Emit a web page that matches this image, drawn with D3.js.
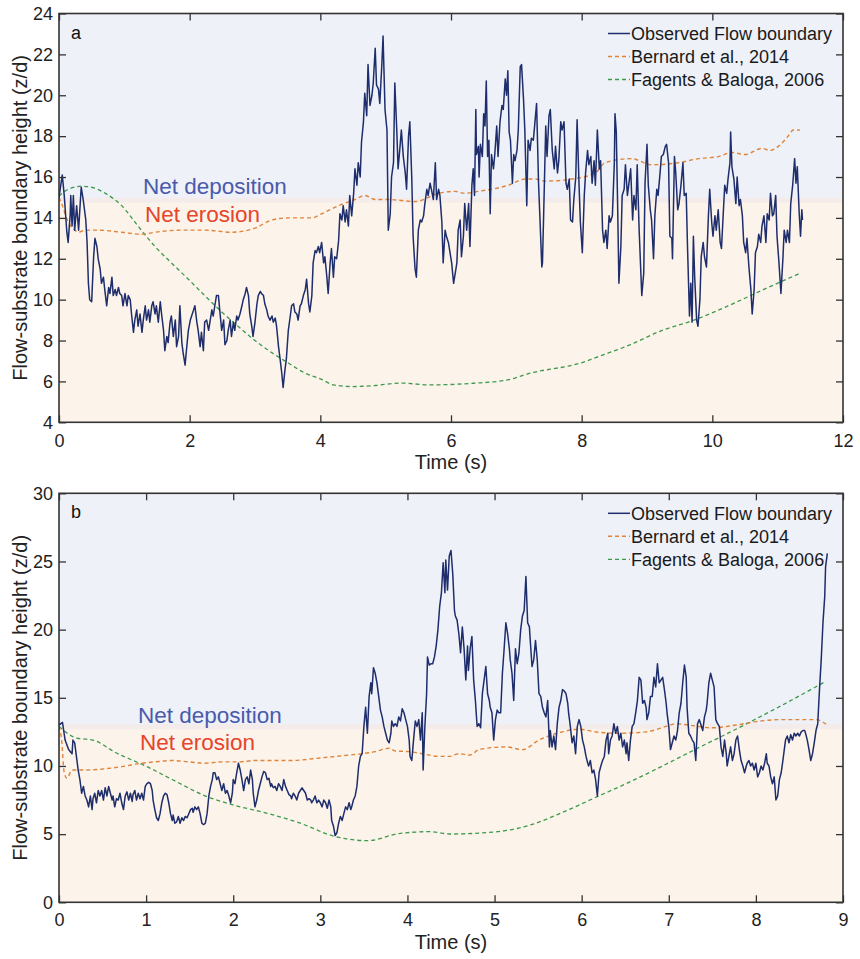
<!DOCTYPE html>
<html><head><meta charset="utf-8">
<script src="https://cdn.jsdelivr.net/npm/d3@7"></script>
<style>body{margin:0;background:#fff}svg{display:block}text{font-family:"Liberation Sans",Arial,sans-serif}</style>
</head><body>
<svg id="c" width="860" height="959"></svg>
<script>
// ---------- DATA ----------
const seriesNames = ["Observed Flow boundary","Bernard et al., 2014","Fagents & Baloga, 2006"];
const xTicksA = [0,2,4,6,8,10,12];
const yTicksA = [4,6,8,10,12,14,16,18,20,22,24];
const xTicksB = [0,1,2,3,4,5,6,7,8,9];
const yTicksB = [0,5,10,15,20,25,30];
const thresholdA = 14.87;
const thresholdB = 12.88;

const obsA_t = [0.00,0.05,0.08,0.12,0.14,0.17,0.18,0.20,0.22,0.24,0.27,0.30,0.34,0.37,0.41,0.43,
0.45,0.47,0.50,0.53,0.55,0.58,0.60,0.63,0.65,0.68,
0.70,0.73,0.76,0.78,0.81,0.83,0.86,0.88,0.91,0.93,
0.96,0.98,1.01,1.04,1.06,1.09,1.11,1.14,1.16,1.19,
1.21,1.24,1.27,1.29,1.32,1.34,1.37,1.39,1.42,1.44,
1.47,1.49,1.52,1.55,1.57,1.60,1.62,1.65,1.67,1.70,
1.72,1.75,1.78,1.80,1.83,1.85,1.88,1.90,1.93,1.95,
1.98,2.01,2.03,2.06,2.08,2.11,2.13,2.16,2.18,2.21,
2.23,2.26,2.29,2.31,2.34,2.36,2.39,2.41,2.44,2.46,
2.49,2.52,2.54,2.57,2.59,2.62,2.64,2.67,2.69,2.72,
2.74,2.77,2.80,2.82,2.85,2.87,2.90,2.92,2.95,2.97,
3.00,3.03,3.05,3.08,3.10,3.13,3.15,3.18,3.20,3.23,
3.26,3.28,3.31,3.33,3.36,3.38,3.41,3.43,3.46,3.48,
3.51,3.54,3.56,3.59,3.61,3.64,3.66,3.69,3.71,3.74,
3.77,3.79,3.82,3.84,3.87,3.89,3.92,3.94,3.97,3.99,
4.02,4.05,4.07,4.10,4.12,4.15,4.17,4.20,4.22,4.25,
4.28,4.30,4.33,4.35,4.38,4.40,4.43,4.45,4.48,4.51,
4.53,4.56,4.58,4.61,4.63,4.66,4.68,4.71,4.73,4.76,
4.79,4.81,4.84,4.86,4.89,4.91,4.94,4.96,4.99,5.02,
5.04,5.07,5.09,5.12,5.14,5.17,5.19,5.22,5.24,5.27,
5.30,5.32,5.35,5.37,5.40,5.42,5.45,5.47,5.50,5.53,
5.55,5.58,5.60,5.63,5.65,5.68,5.70,5.73,5.76,5.78,
5.81,5.83,5.86,5.88,5.91,5.93,5.96,6.01,6.04,
6.09,6.11,6.14,6.16,6.19,6.21,6.24,6.27,6.29,6.32,
6.34,6.36,6.38,6.39,6.42,6.43,6.45,6.48,6.50,6.52,
6.54,6.56,6.58,6.60,6.62,6.65,6.67,6.70,6.72,6.75,
6.78,6.80,6.83,6.85,6.87,6.89,6.91,6.94,6.96,6.98,
7.01,7.03,7.06,7.08,7.11,7.13,7.16,7.18,7.21,7.23,
7.26,7.28,7.31,7.34,7.36,7.39,7.40,7.42,7.45,7.47,
7.50,7.52,7.55,7.58,7.60,7.63,7.65,7.68,7.70,7.73,
7.76,7.78,7.81,7.83,7.86,7.88,7.91,7.93,7.96,7.98,
8.01,8.04,8.06,8.09,8.11,8.14,8.16,8.19,8.21,8.24,
8.27,8.29,8.32,8.34,8.37,8.39,8.42,8.44,8.47,8.50,
8.51,8.53,8.55,8.57,8.60,8.62,8.65,8.67,8.70,8.72,
8.75,8.78,8.80,8.83,8.85,8.88,8.90,8.92,8.95,8.97,
9.00,9.02,9.05,9.07,9.10,9.12,9.15,9.17,9.20,9.22,
9.25,9.28,9.30,9.33,9.35,9.38,9.39,9.42,9.44,9.47,
9.49,9.52,9.55,9.57,9.60,9.62,9.65,9.67,9.69,9.71,
9.73,9.76,9.78,9.81,9.83,9.86,9.88,9.91,9.94,9.96,
9.99,10.01,10.04,10.06,10.09,10.12,10.14,10.17,10.19,10.22,
10.24,10.27,10.28,10.30,10.33,10.36,10.38,10.41,10.43,10.46,
10.48,10.51,10.53,10.56,10.59,10.61,10.64,10.66,10.69,10.71,
10.74,10.76,10.79,10.82,10.84,10.87,10.89,10.92,10.94,10.97,
10.99,11.02,11.05,11.08,11.10,11.13,11.15,11.18,11.20,11.23,
11.26,11.28,11.30,11.33,11.35,11.37,11.38];
const obsA_v = [15.0,16.1,15.1,13.3,12.8,14.1,15.1,13.6,15.1,13.4,14.6,13.4,15.5,14.9,13.9,12.8,
10.8,10.0,9.9,12.1,13.0,12.6,12.0,11.5,10.8,11.1,
10.5,9.7,10.6,10.3,11.1,10.2,10.5,10.2,10.6,10.3,
10.2,9.7,10.3,9.7,10.2,10.0,9.3,8.4,9.0,9.5,
8.7,9.3,8.4,9.0,9.7,9.0,9.5,8.9,9.7,9.9,
9.3,9.7,8.9,9.9,9.3,8.5,7.5,8.2,7.9,8.9,
9.2,8.2,9.0,7.7,8.2,9.7,7.9,7.4,6.8,7.5,
8.5,9.0,9.2,9.5,9.7,8.9,8.5,7.7,8.4,7.5,
8.9,9.0,8.5,8.9,9.5,9.2,9.8,10.2,10.2,9.5,
8.5,9.0,7.8,8.0,8.5,9.0,8.2,8.9,8.5,9.2,
9.0,9.3,9.7,10.0,10.3,10.6,10.2,9.3,8.7,8.2,
8.9,9.8,10.2,10.4,10.3,10.2,9.8,9.5,9.2,9.0,
9.2,8.9,9.1,8.7,7.7,7.2,6.4,5.7,6.6,7.1,
8.5,9.2,9.7,9.8,9.4,9.3,9.0,9.7,9.8,10.2,
10.5,11.0,9.8,9.4,10.2,11.8,12.4,12.3,12.6,12.3,
12.8,11.8,12.1,11.1,10.3,11.8,12.5,11.1,12.1,12.0,
12.9,14.2,13.9,14.6,13.8,14.4,13.6,15.1,14.1,15.2,
16.4,15.6,16.7,16.0,17.7,18.7,20.1,19.0,21.5,19.5,
20.0,20.6,22.3,20.5,20.3,19.6,21.4,22.9,19.3,18.3,
13.4,14.2,16.0,16.7,20.6,18.3,16.4,17.5,18.3,17.0,
16.2,15.4,18.0,18.7,15.9,13.1,11.5,11.1,13.4,13.9,
13.8,14.1,14.7,15.4,15.1,15.7,15.4,14.9,16.7,14.9,
15.4,15.1,13.8,11.8,13.4,13.1,12.8,11.8,10.8,
11.8,13.4,13.9,12.1,13.1,14.7,13.4,14.7,12.6,15.6,
16.4,15.1,19.3,17.1,17.5,16.0,17.6,17.0,19.1,18.5,
20.7,17.0,17.8,14.2,17.1,16.4,17.1,18.5,17.0,18.7,
19.5,19.3,20.8,20.0,21.2,18.2,17.8,15.7,17.1,16.8,
17.3,18.3,21.4,21.5,19.8,18.3,14.6,17.8,17.3,17.9,
17.8,18.5,19.6,15.7,14.1,11.6,11.8,14.4,18.5,17.0,
19.0,19.3,17.3,16.4,17.5,16.2,16.8,18.7,18.3,18.7,
15.7,15.4,15.9,13.9,13.8,14.9,16.0,18.8,15.6,13.8,
12.3,15.1,16.2,17.3,16.6,17.0,15.7,16.8,15.6,18.3,
16.4,16.8,13.4,12.8,13.4,12.5,14.1,13.8,14.1,16.7,
19.1,18.2,14.7,10.8,12.6,15.1,15.4,16.6,15.1,15.6,
16.4,13.9,15.1,14.4,16.6,13.4,11.8,10.2,11.3,15.7,
17.6,15.6,14.4,13.9,12.0,14.1,15.4,15.1,16.2,17.0,
17.1,17.5,17.6,16.7,13.1,13.0,12.0,17.0,16.2,14.4,
14.7,15.6,16.7,15.1,15.2,12.6,9.2,10.8,8.9,13.1,
11.1,9.0,8.7,10.0,12.1,12.8,12.1,11.6,14.1,15.4,
13.8,13.1,14.1,13.4,14.4,12.8,12.5,14.4,15.6,15.2,
15.9,16.7,18.2,16.5,15.9,14.7,16.0,14.6,14.9,14.1,
12.8,12.3,13.0,11.6,10.5,9.3,10.5,12.3,12.6,13.2,
12.8,13.6,14.1,12.8,14.2,13.9,15.2,14.1,14.2,15.1,
13.1,11.8,10.3,12.0,13.4,12.8,13.4,12.8,14.7,15.6,
16.9,15.7,16.5,14.2,13.1,14.4,13.9];

const bernA_t = [0,0.04,0.14,0.24,0.30,0.40,0.60,0.96,1.27,1.47,1.88,2.23,2.64,3.00,3.26,3.51,3.87,4.02,4.28,4.53,4.68,4.84,5.04,5.45,5.81,6.06,6.21,6.42,6.88,7.13,7.29,7.44,7.85,8.21,8.36,8.76,9.07,9.48,9.79,10.09,10.30,10.50,10.76,10.88,11.01,11.16,11.24,11.34];
const bernA_v = [15.0,14.7,13.8,13.4,13.3,13.4,13.4,13.3,13.2,13.3,13.4,13.4,13.3,13.5,13.9,14.0,14.0,14.2,14.6,14.9,15.1,14.9,14.9,14.8,15.2,15.3,15.2,15.3,15.6,15.9,15.9,15.8,15.9,16.2,16.7,16.9,16.6,16.7,16.9,17.0,17.2,17.1,17.4,17.3,17.5,18.0,18.3,18.3];

const fagA_t = [0,0.14,0.35,0.50,0.71,0.96,1.21,1.47,1.72,1.98,2.23,2.49,2.74,3.00,3.26,3.51,3.77,4.02,4.20,4.50,4.84,5.22,5.68,6.34,6.86,7.21,7.98,8.33,8.74,9.25,9.66,10.28,10.78,11.35];
const fagA_v = [15.06,15.4,15.55,15.5,15.2,14.6,13.6,12.6,11.8,11.0,10.2,9.4,8.7,8.0,7.4,6.9,6.4,6.1,5.83,5.75,5.8,5.92,5.83,5.91,6.07,6.4,6.9,7.3,7.79,8.52,8.93,9.75,10.49,11.3];

const obsB_t = [0.00,0.04,0.07,0.11,0.15,0.16,0.18,0.20,0.22,0.24,0.26,0.28,0.30,0.32,
0.34,0.36,0.38,0.39,0.41,0.43,0.45,0.47,0.49,0.51,
0.53,0.55,0.57,0.59,0.61,0.62,0.64,0.66,0.68,0.70,
0.72,0.74,0.76,0.78,0.80,0.82,0.84,0.85,0.87,0.89,
0.91,0.93,0.95,0.97,0.99,1.01,1.03,1.05,1.07,1.08,
1.10,1.12,1.14,1.16,1.18,1.20,1.22,1.24,1.26,1.28,
1.30,1.31,1.33,1.35,1.37,1.39,1.41,1.43,1.45,1.47,
1.49,1.51,1.53,1.54,1.56,1.58,1.60,1.62,1.64,1.66,
1.68,1.70,1.72,1.74,1.76,1.77,1.79,1.81,1.83,1.85,
1.87,1.89,1.91,1.93,1.95,1.97,1.99,2.00,2.02,2.04,
2.06,2.08,2.10,2.12,2.14,2.16,2.18,2.20,2.22,2.23,
2.25,2.27,2.29,2.31,2.33,2.35,2.37,2.39,2.41,2.43,
2.44,2.46,2.48,2.50,2.52,2.54,2.56,2.58,2.60,2.62,
2.64,2.66,2.67,2.69,2.71,2.73,2.75,2.77,2.79,2.81,
2.83,2.85,2.87,2.89,2.90,2.92,2.94,2.96,2.98,3.00,
3.02,3.04,3.06,3.08,3.10,3.12,3.13,3.15,3.17,3.19,
3.21,3.23,3.25,3.27,3.29,3.31,3.33,3.35,3.36,3.38,
3.40,3.42,3.44,3.46,3.48,3.50,3.52,3.54,3.56,3.58,
3.59,3.61,3.63,3.65,3.67,3.69,3.71,3.73,3.75,3.77,
3.79,3.81,3.82,3.84,3.86,3.88,3.90,3.92,3.94,3.96,
3.98,4.00,4.02,4.03,4.05,4.07,4.09,4.11,4.13,4.15,
4.17,
4.18,4.20,4.22,4.23,4.25,4.27,4.29,4.31,4.33,4.35,4.37,4.39,4.41,4.43,4.44,4.46,4.48,4.50,4.52,4.54,
4.55,4.57,4.59,4.61,4.63,4.65,4.67,4.69,4.70,4.72,
4.74,4.76,4.78,4.80,4.82,4.84,4.86,4.88,4.90,4.92,
4.94,4.95,4.97,4.99,5.01,5.03,5.05,5.07,5.09,5.11,
5.13,5.15,5.17,5.18,5.20,5.22,5.24,5.26,5.28,5.30,
5.32,5.34,5.36,5.38,5.40,5.41,5.43,5.45,5.47,5.49,
5.51,5.53,5.55,5.57,5.59,5.61,5.63,5.64,5.66,5.68,
5.70,5.72,5.74,5.76,5.78,5.80,5.82,5.84,5.85,5.87,
5.89,5.91,5.93,5.95,5.97,5.99,6.01,6.03,6.05,6.07,
6.08,6.10,6.12,6.14,6.16,6.18,6.20,6.22,6.24,6.26,
6.28,6.30,6.31,6.33,6.35,6.37,6.39,6.41,6.43,6.45,
6.47,6.49,6.51,6.52,6.54,6.56,6.58,6.60,6.62,6.64,
6.66,6.68,6.70,6.72,6.74,6.75,6.77,6.79,6.81,6.83,
6.85,6.87,6.89,6.91,6.93,6.95,6.97,6.98,7.00,7.02,
7.04,7.06,7.08,7.10,7.12,7.14,7.16,7.18,7.20,7.21,
7.23,7.25,7.27,7.29,7.31,7.33,7.35,7.37,7.39,7.41,
7.43,7.44,7.46,7.48,7.50,7.52,7.54,7.56,7.58,7.60,
7.62,7.64,7.66,7.67,7.69,7.71,7.73,7.75,7.77,7.79,
7.81,7.83,7.85,7.87,7.89,7.90,7.92,7.94,7.96,7.98,
8.00,8.02,8.04,8.06,8.08,8.10,8.12,8.13,8.15,8.17,
8.19,8.21,8.23,8.25,8.27,8.29,8.31,8.33,8.34,8.36,
8.38,8.40,8.42,8.44,8.46,8.48,8.50,8.52,8.54,8.56,
8.57,8.59,8.61,8.63,8.65,8.67,8.69,8.71,8.73,8.75,
8.77,8.79,8.80,8.82];
const obsB_v = [13.0,13.2,11.9,11.2,10.9,11.9,11.7,10.7,9.7,9.0,8.0,8.5,7.8,7.5,
7.0,7.8,6.8,7.6,8.0,7.3,8.2,7.8,8.2,7.5,
8.4,7.8,8.5,8.0,7.5,7.8,7.0,7.6,7.5,8.0,
7.3,6.8,7.8,8.1,7.5,8.0,7.4,7.9,8.2,7.5,
8.0,7.6,8.0,7.5,8.5,8.7,8.8,8.7,8.2,7.5,
6.8,6.2,6.0,6.5,7.3,7.8,8.0,7.9,7.3,6.5,
6.0,6.4,5.8,5.9,6.3,5.8,6.2,6.0,6.3,6.2,
6.5,6.8,6.9,6.6,7.0,6.8,7.0,6.5,5.8,5.7,
5.8,6.5,7.8,8.5,9.0,9.5,9.5,9.0,9.2,8.7,
8.2,8.7,8.0,8.2,7.8,7.3,8.0,9.0,8.7,9.5,
10.2,9.7,9.0,8.2,9.0,9.2,8.7,9.7,9.0,8.0,
7.0,7.5,8.2,8.7,9.2,9.6,9.5,9.0,9.1,8.5,
8.7,8.4,8.5,8.2,8.7,8.5,8.2,9.0,8.5,8.2,
7.9,7.8,7.6,8.0,7.8,7.5,8.0,8.2,8.4,8.2,
8.0,7.5,7.6,7.5,7.3,7.5,7.8,7.3,7.5,7.3,
7.0,7.5,7.3,6.9,7.5,7.0,6.0,5.6,4.9,5.1,
5.8,6.3,6.0,6.5,7.0,6.8,7.3,6.8,7.0,7.5,
7.8,8.5,10.0,10.7,10.9,12.9,14.3,12.4,15.1,16.1,
15.3,17.2,16.8,16.1,15.1,14.1,13.6,12.9,12.4,11.9,
11.7,12.4,13.3,12.9,13.1,12.9,13.6,13.3,14.2,13.9,
13.4,12.9,11.9,10.7,10.4,11.9,13.3,12.9,13.4,11.9,
13.9,
9.7,12.9,15.3,18.0,17.4,17.5,17.5,18.0,18.8,20.0,21.7,22.7,24.9,22.7,25.1,22.9,25.4,25.8,24.1,21.4,
21.0,20.7,19.7,18.3,20.2,18.6,16.3,18.8,17.0,18.6,
19.5,16.3,14.8,12.9,13.1,12.8,15.3,16.3,17.3,15.3,
14.8,14.3,13.9,11.9,13.4,14.1,13.9,13.9,16.8,18.6,
20.5,19.7,18.6,17.8,16.8,14.8,18.6,17.5,18.3,20.0,
21.0,21.4,23.9,20.5,20.2,19.2,17.3,17.8,19.2,17.8,
15.3,15.1,14.3,13.9,13.6,14.8,11.4,12.6,11.4,12.2,
11.2,13.1,14.3,14.8,15.6,15.5,15.3,14.6,13.9,12.9,
11.7,12.2,10.9,12.9,13.4,12.9,11.9,11.4,10.7,10.2,
10.0,10.4,9.5,9.7,9.0,7.8,9.5,10.0,10.4,10.7,
11.9,12.4,10.9,11.9,12.2,13.1,12.4,12.9,11.9,12.4,
11.4,11.9,10.9,11.7,10.4,11.9,12.9,13.1,13.9,14.8,
16.5,16.3,14.6,14.8,14.3,13.4,13.9,15.1,15.1,16.5,
15.8,17.5,16.1,16.3,16.5,15.6,14.6,13.9,12.9,11.2,
11.7,12.2,11.9,12.6,13.9,14.6,16.1,17.4,16.5,14.3,
12.4,12.2,11.9,11.7,10.4,13.1,13.4,13.0,12.6,13.6,
14.1,14.6,16.1,16.8,16.3,15.8,13.4,13.1,12.9,11.4,
10.7,11.9,10.9,10.0,10.7,11.4,10.4,10.9,11.9,12.2,
11.2,10.4,10.0,9.5,10.0,10.2,10.4,10.0,10.2,9.7,
10.2,9.2,9.5,10.0,9.7,10.2,10.9,10.2,10.0,9.2,
8.7,9.2,7.5,7.8,9.0,9.5,10.4,11.4,11.9,12.2,
11.7,12.3,11.9,12.4,12.2,12.4,12.2,12.5,12.6,12.6,
12.4,11.9,11.2,10.4,10.9,11.7,12.6,13.1,15.6,17.8,
20.5,22.4,24.6,25.6];

const bernB_t = [0,0.03,0.06,0.09,0.15,0.26,0.45,0.72,0.95,1.10,1.30,1.49,1.68,1.87,2.06,2.25,2.64,3.02,3.33,3.48,3.63,3.79,3.86,4.02,4.17,4.36,4.48,4.59,4.72,4.82,5.13,5.32,5.51,5.78,5.97,6.16,6.43,6.74,6.97,7.08,7.23,7.50,7.77,8.00,8.27,8.50,8.69,8.82];
const bernB_v = [12.9,11.9,9.5,9.1,9.7,9.7,9.75,9.95,10.2,10.3,10.4,10.3,10.2,10.3,10.3,10.4,10.4,10.6,10.8,10.9,11.05,11.3,11.1,11.05,10.9,10.7,10.7,10.9,10.8,11.2,11.4,11.2,11.9,12.5,12.7,12.5,12.4,12.5,12.9,13.1,13.0,12.8,13.0,13.25,13.4,13.4,13.4,13.0];

const fagB_t = [0,0.20,0.39,0.66,1.01,1.31,1.70,2.00,2.39,2.77,3.15,3.54,3.92,4.26,4.49,5.03,5.41,5.80,6.18,6.56,6.95,7.33,7.71,8.27,8.80];
const fagB_v = [12.9,12.05,11.9,10.95,9.95,8.97,7.75,7.14,6.53,5.8,4.86,4.52,5.06,5.18,5.01,5.18,5.67,6.65,7.75,8.85,10.07,11.3,12.5,14.35,16.2];

// ---------- STYLE ----------
const C = {obs:"#1e2d6b", bern:"#e0843a", fag:"#3d9a4c", dep:"#eff1f8", ero:"#fcf3eb", band:"#f4ecea",
           depText:"#4a5aab", eroText:"#e5452b", axis:"#333", text:"#222"};

const svg = d3.select("#c");

function panel(cfg){
  const g = svg.append("g");
  const x = d3.scaleLinear().domain(cfg.xDomain).range([cfg.left, cfg.right]);
  const y = d3.scaleLinear().domain(cfg.yDomain).range([cfg.bottom, cfg.top]);
  const yt = y(cfg.thr);
  g.append("rect").attr("x",cfg.left).attr("y",cfg.top).attr("width",cfg.right-cfg.left).attr("height",yt-cfg.top).attr("fill",C.dep);
  g.append("rect").attr("x",cfg.left).attr("y",yt).attr("width",cfg.right-cfg.left).attr("height",cfg.bottom-yt).attr("fill",C.ero);
  g.append("rect").attr("x",cfg.left).attr("y",yt-2.5).attr("width",cfg.right-cfg.left).attr("height",5).attr("fill",C.band);

  const clipId = "clip"+cfg.id;
  svg.append("clipPath").attr("id",clipId).append("rect")
    .attr("x",cfg.left).attr("y",cfg.top).attr("width",cfg.right-cfg.left).attr("height",cfg.bottom-cfg.top);

  // region labels
  g.append("text").attr("x",cfg.depX).attr("y",cfg.depY).attr("fill",C.depText).attr("font-size",22.5).text("Net deposition");
  g.append("text").attr("x",cfg.eroX).attr("y",cfg.eroY).attr("fill",C.eroText).attr("font-size",22.5).text("Net erosion");

  const lines = g.append("g").attr("clip-path",`url(#${clipId})`);
  const smooth = d3.line().x(d=>x(d[0])).y(d=>y(d[1])).curve(d3.curveMonotoneX);
  const raw = d3.line().x(d=>x(d[0])).y(d=>y(d[1]));
  lines.append("path").attr("d",smooth(d3.zip(cfg.fag_t,cfg.fag_v))).attr("fill","none")
    .attr("stroke",C.fag).attr("stroke-width",1.3).attr("stroke-dasharray","4,3");
  lines.append("path").attr("d",smooth(d3.zip(cfg.bern_t,cfg.bern_v))).attr("fill","none")
    .attr("stroke",C.bern).attr("stroke-width",1.4).attr("stroke-dasharray","4,3");
  lines.append("path").attr("d",raw(d3.zip(cfg.obs_t,cfg.obs_v))).attr("fill","none")
    .attr("stroke",C.obs).attr("stroke-width",1.5).attr("stroke-linejoin","round");

  // axes
  const fs = 18;
  const ax = (a)=>a.call(s=>s.select(".domain").remove()).call(s=>s.selectAll("line").attr("stroke",C.axis).attr("stroke-width",1.3))
    .call(s=>s.selectAll("text").attr("font-size",fs).attr("fill",C.text).attr("font-family",'"Liberation Sans",Arial,sans-serif'));
  g.append("g").attr("transform",`translate(0,${cfg.bottom})`)
    .call(d3.axisBottom(x).tickValues(cfg.xTicks).tickFormat(d3.format("d")).tickSizeInner(-7).tickSizeOuter(0).tickPadding(cfg.xPad)).call(ax);
  g.append("g").attr("transform",`translate(0,${cfg.top})`)
    .call(d3.axisTop(x).tickValues(cfg.xTicks).tickFormat("").tickSizeInner(-7).tickSizeOuter(0)).call(ax);
  g.append("g").attr("transform",`translate(${cfg.left},0)`)
    .call(d3.axisLeft(y).tickValues(cfg.yTicks).tickFormat(d3.format("d")).tickSizeInner(-7).tickSizeOuter(0).tickPadding(6)).call(ax);
  g.append("g").attr("transform",`translate(${cfg.right},0)`)
    .call(d3.axisRight(y).tickValues(cfg.yTicks).tickFormat("").tickSizeInner(-7).tickSizeOuter(0)).call(ax);
  g.append("rect").attr("x",cfg.left).attr("y",cfg.top).attr("width",cfg.right-cfg.left).attr("height",cfg.bottom-cfg.top)
    .attr("fill","none").attr("stroke",C.axis).attr("stroke-width",1.6);

  // axis titles
  g.append("text").attr("x",(cfg.left+cfg.right)/2).attr("y",cfg.xTitleY).attr("text-anchor","middle")
    .attr("font-size",20).attr("fill",C.text).text("Time (s)");
  g.append("text").attr("transform",`translate(27,${(cfg.top+cfg.bottom)/2}) rotate(-90)`).attr("text-anchor","middle")
    .attr("font-size",20).attr("fill",C.text).text("Flow-substrate boundary height (z/d)");

  // panel letter
  g.append("text").attr("x",cfg.left+12).attr("y",cfg.top+25).attr("font-size",18).attr("fill","#111").text(cfg.id);

  // legend
  const lg = g.append("g");
  const styles = [[C.obs,null,1.5],[C.bern,"4,3",1.4],[C.fag,"4,3",1.3]];
  seriesNames.forEach((name,i)=>{
    const yy = cfg.top + 20 + i*23;
    lg.append("line").attr("x1",608).attr("x2",630).attr("y1",yy).attr("y2",yy)
      .attr("stroke",styles[i][0]).attr("stroke-width",styles[i][2]).attr("stroke-dasharray",styles[i][1]);
    lg.append("text").attr("x",631).attr("y",yy).attr("dy","0.35em").attr("font-size",18).attr("fill","#1a1a1a").text(name);
  });
}

panel({id:"a", left:59, right:843, top:13.5, bottom:422.3, xDomain:[0,12], yDomain:[4,24],
  xTicks:xTicksA, yTicks:yTicksA, thr:thresholdA, xPad:12, xTitleY:469,
  depX:143, depY:194, eroX:145, eroY:222,
  obs_t:obsA_t, obs_v:obsA_v, bern_t:bernA_t, bern_v:bernA_v, fag_t:fagA_t, fag_v:fagA_v});
panel({id:"b", left:59, right:843, top:493.3, bottom:902.3, xDomain:[0,9], yDomain:[0,30],
  xTicks:xTicksB, yTicks:yTicksB, thr:thresholdB, xPad:11, xTitleY:949,
  depX:138, depY:723, eroX:140, eroY:750,
  obs_t:obsB_t, obs_v:obsB_v, bern_t:bernB_t, bern_v:bernB_v, fag_t:fagB_t, fag_v:fagB_v});

if (obsA_t.length!==obsA_v.length || obsB_t.length!==obsB_v.length) console.error("len mismatch", obsA_t.length, obsA_v.length, obsB_t.length, obsB_v.length);
</script>
</body></html>
